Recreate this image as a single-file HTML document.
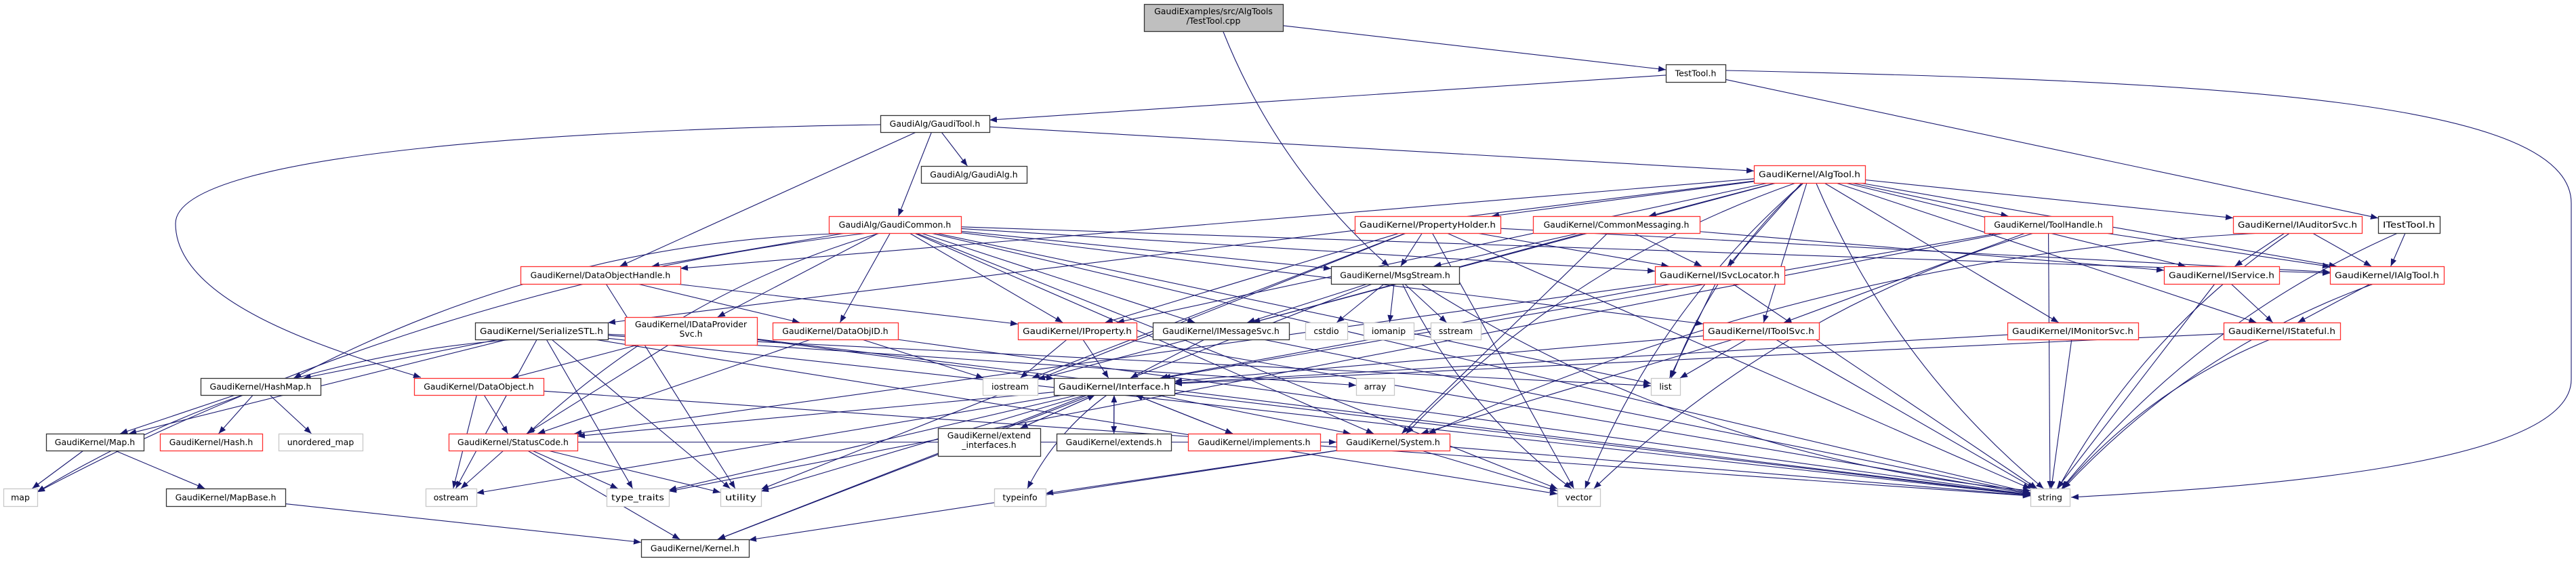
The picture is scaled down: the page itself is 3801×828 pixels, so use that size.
<!DOCTYPE html>
<html><head><meta charset="utf-8">
<style>
html,body{margin:0;padding:0;background:#fff;}
svg{display:block;}
text{font-family:"DejaVu Sans","Liberation Sans",sans-serif;font-size:12.5px;fill:#000;}
</style></head>
<body>
<svg id="g" width="3801" height="828" viewBox="0 0 3801 828" xmlns="http://www.w3.org/2000/svg">
<defs>
<marker id="ah" viewBox="0 0 10 10" refX="10" refY="5" markerWidth="11" markerHeight="11" markerUnits="userSpaceOnUse" orient="auto">
<path d="M0,1 L10,5 L0,9 z" fill="#191970"/></marker>
</defs>
<g id="edges" fill="none" stroke="#191970" stroke-width="1.1"></g>
<g id="nodes"></g>
</svg>
<script>
var N={
cpp:[1688,6,1893,46,'g',['GaudiExamples/src/AlgTools','/TestTool.cpp']],
tth:[2458,95,2546,121,'b',['TestTool.h']],
gtool:[1299,170,1460,195,'b',['GaudiAlg/GaudiTool.h']],
galg:[1359,245,1515,270,'b',['GaudiAlg/GaudiAlg.h']],
gcom:[1223,319,1418,344,'r',['GaudiAlg/GaudiCommon.h']],
algtool:[2588,244,2752,270,'r',['GaudiKernel/AlgTool.h']],
prop:[1999,319,2214,344,'r',['GaudiKernel/PropertyHolder.h']],
cmsg:[2262,319,2508,344,'r',['GaudiKernel/CommonMessaging.h']],
thdl:[2928,319,3117,344,'r',['GaudiKernel/ToolHandle.h']],
iaud:[3295,319,3485,344,'r',['GaudiKernel/IAuditorSvc.h']],
itt:[3509,319,3600,344,'b',['ITestTool.h']],
doh:[768,393,1004,419,'r',['GaudiKernel/DataObjectHandle.h']],
msg:[1964,393,2153,419,'b',['GaudiKernel/MsgStream.h']],
isl:[2442,393,2633,419,'r',['GaudiKernel/ISvcLocator.h']],
isvc:[3193,393,3363,419,'r',['GaudiKernel/IService.h']],
ialg:[3438,393,3606,419,'r',['GaudiKernel/IAlgTool.h']],
ser:[701,476,897,501,'b',['GaudiKernel/SerializeSTL.h']],
idp:[922,468,1117,509,'r',['GaudiKernel/IDataProvider','Svc.h']],
doid:[1140,476,1325,501,'r',['GaudiKernel/DataObjID.h']],
iprop:[1502,476,1677,501,'r',['GaudiKernel/IProperty.h']],
imsg:[1701,476,1902,501,'b',['GaudiKernel/IMessageSvc.h']],
cstdio:[1926,476,1988,501,'x',['cstdio']],
iomanip:[2012,476,2086,501,'x',['iomanip']],
sstream:[2111,476,2185,501,'x',['sstream']],
itsvc:[2513,476,2684,501,'r',['GaudiKernel/IToolSvc.h']],
imon:[2962,476,3155,501,'r',['GaudiKernel/IMonitorSvc.h']],
istat:[3281,476,3453,501,'r',['GaudiKernel/IStateful.h']],
hmap:[296,558,473,583,'b',['GaudiKernel/HashMap.h']],
dobj:[611,558,802,583,'r',['GaudiKernel/DataObject.h']],
iostream:[1450,558,1531,583,'x',['iostream']],
iface:[1555,558,1733,583,'b',['GaudiKernel/Interface.h']],
array:[2001,558,2057,583,'x',['array']],
list:[2436,558,2479,583,'x',['list']],
map_h:[68,640,212,665,'b',['GaudiKernel/Map.h']],
hash:[236,640,387,665,'r',['GaudiKernel/Hash.h']],
umap:[411,640,535,665,'x',['unordered_map']],
sc:[662,640,852,665,'r',['GaudiKernel/StatusCode.h']],
extif:[1384,632,1535,673,'b',['GaudiKernel/extend','_interfaces.h']],
ext:[1559,640,1728,665,'b',['GaudiKernel/extends.h']],
impl:[1753,640,1948,665,'r',['GaudiKernel/implements.h']],
sys:[1972,640,2139,665,'r',['GaudiKernel/System.h']],
map:[5,721,55,747,'x',['map']],
mapbase:[245,721,421,747,'b',['GaudiKernel/MapBase.h']],
ostream:[628,721,703,747,'x',['ostream']],
tt:[895,721,987,747,'x',['type_traits']],
util:[1063,721,1123,747,'x',['utility']],
typeinfo:[1467,721,1543,747,'x',['typeinfo']],
vector:[2298,721,2361,747,'x',['vector']],
string:[2996,721,3054,747,'x',['string']],
kernel:[946,796,1105,822,'b',['GaudiKernel/Kernel.h']]
};
var E=[
['cpp','tth'],['cpp','msg',1],['tth','gtool'],['tth','itt'],['tth','string',2],
['gtool','galg'],['gtool','gcom'],['gtool','algtool'],['gtool','doh'],['gtool','dobj',3],
['gcom','map',1],['gcom','hmap',1],['gcom','doh'],['gcom','idp'],['gcom','sc',1],['gcom','imsg'],['gcom','sys'],['gcom','list'],['gcom','string'],['gcom','vector'],['gcom','msg'],['gcom','isl'],['gcom','iprop'],['gcom','itsvc'],['gcom','ialg'],['gcom','doid'],
['algtool','prop'],['algtool','cmsg'],['algtool','iprop'],['algtool','imsg'],['algtool','isl'],['algtool','itsvc'],['algtool','thdl'],['algtool','iaud'],['algtool','isvc'],['algtool','ialg'],['algtool','imon'],['algtool','istat'],['algtool','doh'],['algtool','ser'],['algtool','list',1],['algtool','vector',1],['algtool','string',1],['algtool','sys',1],
['prop','iprop'],['prop','msg'],['prop','isl'],['prop','iostream'],['prop','string'],['prop','vector'],['prop','util'],['prop','ialg'],
['cmsg','msg'],['cmsg','imsg'],['cmsg','isl'],['cmsg','isvc'],['cmsg','sys'],
['msg','imsg'],['msg','cstdio'],['msg','iomanip'],['msg','sstream'],['msg','string',1],['msg','vector',1],['msg','kernel'],
['isl','list'],['isl','string'],['isl','iface'],['isl','sc'],
['thdl','itsvc'],['thdl','ialg'],['thdl','vector',1],['thdl','iface'],['thdl','string'],['thdl','tt'],
['iaud','isvc'],['iaud','ialg'],['iaud','string',1],['iaud','sys',1],
['itt','ialg'],['itt','string',1],
['isvc','istat'],['isvc','string'],
['ialg','istat'],['ialg','string',1],
['istat','iface'],['istat','string',1],
['itsvc','iface'],['itsvc','list'],['itsvc','string'],['itsvc','sys'],
['imon','iface'],['imon','string'],
['ser','map',1],['ser','map_h'],['ser','hmap'],['ser','array'],['ser','list'],['ser','ostream'],['ser','string'],['ser','util'],['ser','vector'],['ser','tt'],
['idp','dobj'],['idp','sc'],['idp','iface'],['idp','string'],
['doid','iostream'],['doid','string'],['doid','sc'],
['doh','doid'],['doh','iprop'],['doh','util'],
['hmap','map_h'],['hmap','hash'],['hmap','umap'],
['map_h','map'],['map_h','mapbase'],['mapbase','kernel'],
['dobj','sc'],['dobj','ostream'],['dobj','string'],
['sc','ostream'],['sc','tt'],['sc','util'],['sc','kernel'],['sc','sys'],
['iprop','iface'],['iprop','iostream'],['iprop','string'],
['imsg','iface'],['imsg','iostream'],['imsg','string'],
['iface','extif'],['iface','ext'],['iface','impl'],['iface','sys'],['iface','sc'],['iface','kernel'],['iface','ostream'],['iface','tt'],['iface','typeinfo',1],['iface','util'],['iface','string'],
['extif','iface'],['ext','iface'],['impl','iface'],
['sys','kernel'],['sys','typeinfo'],['sys','string'],['sys','vector']
];
var NS='http://www.w3.org/2000/svg';
function el(t,a,p){var e=document.createElementNS(NS,t);for(var k in a)e.setAttribute(k,a[k]);p.appendChild(e);return e;}
var ge=document.getElementById('edges'),gn=document.getElementById('nodes');
function clip(b,cx,cy,tx,ty){
 var x1=b[0],y1=b[1],x2=b[2],y2=b[3],mx=(x1+x2)/2,my=(y1+y2)/2;
 var dx=tx-mx,dy=ty-my,t=1e9;
 if(dx!==0){t=Math.min(t,Math.abs((x2-x1)/2/dx));}
 if(dy!==0){t=Math.min(t,Math.abs((y2-y1)/2/dy));}
 return [mx+dx*t,my+dy*t];
}
E.forEach(function(e){
 var a=N[e[0]],b=N[e[1]];
 var ax=(a[0]+a[2])/2,ay=(a[1]+a[3])/2,bx=(b[0]+b[2])/2,by=(b[1]+b[3])/2;
 var d;
 if(e[2]===2){ // right side long curve
   var p=[a[2],a[1]+9];
   d='M'+p[0]+','+p[1]+' C3300,120 3794,150 3794,300 L3794,560 C3794,690 3300,720 '+(b[2]+2)+','+(b[1]+13);
 } else if(e[2]===3){
   d='M'+a[0]+','+(a[1]+14)+' C900,190 259,220 259,330 C259,450 500,520 '+(b[0]+10)+','+(b[1]-1);
 } else {
   var s=clip(a,ax,ay,bx,by),t=clip(b,bx,by,ax,ay);
   if(e[2]===1){
     var mx=(s[0]+t[0])/2,my=(s[1]+t[1])/2;
     var dx=t[0]-s[0],dy=t[1]-s[1],L=Math.sqrt(dx*dx+dy*dy)||1;
     var off=Math.min(120,L*0.12);
     d='M'+s[0]+','+s[1]+' Q'+(mx-dy/L*off)+','+(my+dx/L*off)+' '+t[0]+','+t[1];
   } else d='M'+s[0]+','+s[1]+' L'+t[0]+','+t[1];
 }
 el('path',{d:d,'marker-end':'url(#ah)'},ge);
});
for(var k in N){
 var n=N[k],st=n[4];
 var fill=st==='g'?'#bfbfbf':'#fff';
 var stroke=st==='r'?'#ff3030':(st==='x'?'#c8c8c8':'#333');
 el('rect',{x:n[0]+0.5,y:n[1]+0.5,width:n[2]-n[0],height:n[3]-n[1],fill:fill,stroke:stroke,'stroke-width':1.3},gn);
 var lines=n[5],cx=(n[0]+n[2])/2,h=n[3]-n[1];
 for(var i=0;i<lines.length;i++){
   var y=lines.length===1?(n[1]+h/2+4.5):(n[1]+15+i*14);
   var t=el('text',{x:cx,y:y,'text-anchor':'middle'},gn);
   t.textContent=lines[i];
   var w=(n[2]-n[0])-14;
   var est=lines[i].length*7.2;
   if(est>w) {t.setAttribute('textLength',w);t.setAttribute('lengthAdjust','spacingAndGlyphs');}
 }
}
</script>
</body></html>
